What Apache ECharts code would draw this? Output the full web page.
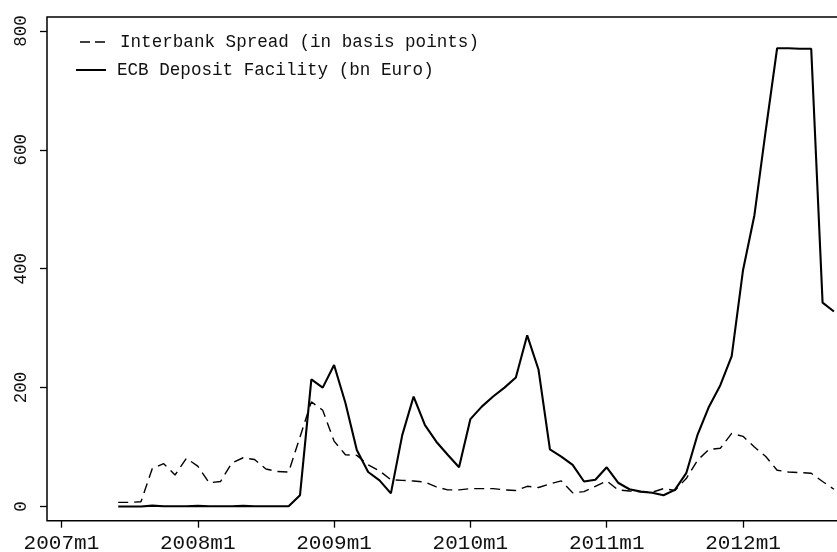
<!DOCTYPE html>
<html>
<head>
<meta charset="utf-8">
<script src="https://cdn.jsdelivr.net/npm/echarts@6/dist/echarts.min.js"></script>
<style>
  html, body { margin: 0; padding: 0; background: #fff; }
  #chart { width: 837px; height: 552px; }
</style>
</head>
<body>
<div id="chart"></div>
<script>
// Monthly data, first observation 2007m6 (month index 5, where 2007m1 = 0)
const startMonth = 5;

const interbankSpread = [
  7, 7, 8, 64, 72, 53, 81, 68, 40, 42, 73, 82, 79, 63, 59, 58,
  117, 176, 162, 110, 87, 86, 70, 60, 45, 44, 43, 41, 33, 28, 28, 30,
  30, 30, 28, 27, 34, 32, 38, 43, 23, 25, 34, 43, 28, 26, 25, 24,
  30, 27, 47, 78, 96, 98, 123, 118, 100, 84, 61, 58, 57, 56, 42, 29
];

const ecbDeposit = [
  0, 0, 0, 1.5, 0.5, 0.5, 0.5, 1, 0.5, 0.5, 0.5, 1, 0.5, 0.5, 0.5, 0.5,
  19, 214, 200, 238, 174, 95, 58, 44, 22, 120, 185, 137, 109, 87, 66, 147,
  168, 185, 200, 217, 288, 230, 96, 84, 70, 42, 45, 66, 40, 29, 25, 23,
  19, 28, 56, 121, 168, 204, 253, 398, 490, 633, 771, 771, 770, 770, 343, 328
];

const xTickValues = [0, 12, 24, 36, 48, 60];
const xTickLabels = ['2007m1', '2008m1', '2009m1', '2010m1', '2011m1', '2012m1'];
const yTickValues = [0, 200, 400, 600, 800];
const yTickLabels = ['0', '200', '400', '600', '800'];

const seriesNames = ['Interbank Spread (in basis points)', 'ECB Deposit Facility (bn Euro)'];

function toPairs(values) {
  return values.map((v, i) => [startMonth + i, v]);
}

const FONT = '"Liberation Mono", "DejaVu Sans Mono", monospace';
const legendText = { fontFamily: FONT, fontSize: 17.6, color: '#111' };

const chart = echarts.init(document.getElementById('chart'), null, { renderer: 'canvas' });

chart.setOption({
  backgroundColor: '#ffffff',
  animation: false,
  grid: {
    left: 47,
    top: 17,
    bottom: 31.3,
    width: 800,
    outerBoundsMode: 'none',
    containLabel: false,
    show: true,
    borderColor: '#000',
    borderWidth: 1.5,
    backgroundColor: 'transparent'
  },
  legend: [
    {
      orient: 'vertical',
      left: 75,
      top: 28,
      itemWidth: 25,
      itemHeight: 1.5,
      itemGap: 0,
      textStyle: Object.assign({ padding: [0, 0, 0, 10] }, legendText),
      data: [{ name: seriesNames[0], icon: 'path://M0,0H10V1.5H0Z M15,0H25V1.5H15Z' }]
    },
    {
      orient: 'vertical',
      left: 71,
      top: 56,
      itemWidth: 30,
      itemHeight: 2,
      itemGap: 0,
      textStyle: Object.assign({ padding: [0, 0, 0, 6] }, legendText),
      data: [{ name: seriesNames[1], icon: 'path://M0,0H30V2H0Z' }]
    }
  ],
  xAxis: {
    type: 'value',
    min: -1.27,
    max: 69.15,
    axisLine: { show: false, onZero: false },
    splitLine: { show: false },
    axisTick: {
      show: true,
      length: 7,
      lineStyle: { color: '#000', width: 1.3 },
      customValues: xTickValues
    },
    axisLabel: {
      show: true,
      customValues: xTickValues,
      margin: 12,
      fontFamily: FONT,
      fontSize: 21,
      color: '#111',
      formatter: function (v) {
        const i = xTickValues.indexOf(Math.round(v));
        return i >= 0 ? xTickLabels[i] : '';
      }
    }
  },
  yAxis: {
    type: 'value',
    min: -23.9,
    max: 823.5,
    axisLine: { show: false, onZero: false },
    splitLine: { show: false },
    axisTick: {
      show: true,
      length: 7,
      lineStyle: { color: '#000', width: 1.3 },
      customValues: yTickValues
    },
    axisLabel: {
      show: true,
      customValues: yTickValues,
      rotate: 90,
      margin: 17,
      fontFamily: FONT,
      fontSize: 17.5,
      color: '#111',
      formatter: function (v) {
        const i = yTickValues.indexOf(Math.round(v));
        return i >= 0 ? yTickLabels[i] : '';
      }
    }
  },
  series: [
    {
      name: seriesNames[0],
      type: 'line',
      data: toPairs(interbankSpread),
      showSymbol: false,
      symbol: 'none',
      lineStyle: { color: '#000', width: 1.4, type: [10, 6] },
      itemStyle: { color: '#000' },
      z: 3
    },
    {
      name: seriesNames[1],
      type: 'line',
      data: toPairs(ecbDeposit),
      showSymbol: false,
      symbol: 'none',
      lineStyle: { color: '#000', width: 2.1, type: 'solid' },
      itemStyle: { color: '#000' },
      z: 4
    }
  ]
});
</script>
</body>
</html>
